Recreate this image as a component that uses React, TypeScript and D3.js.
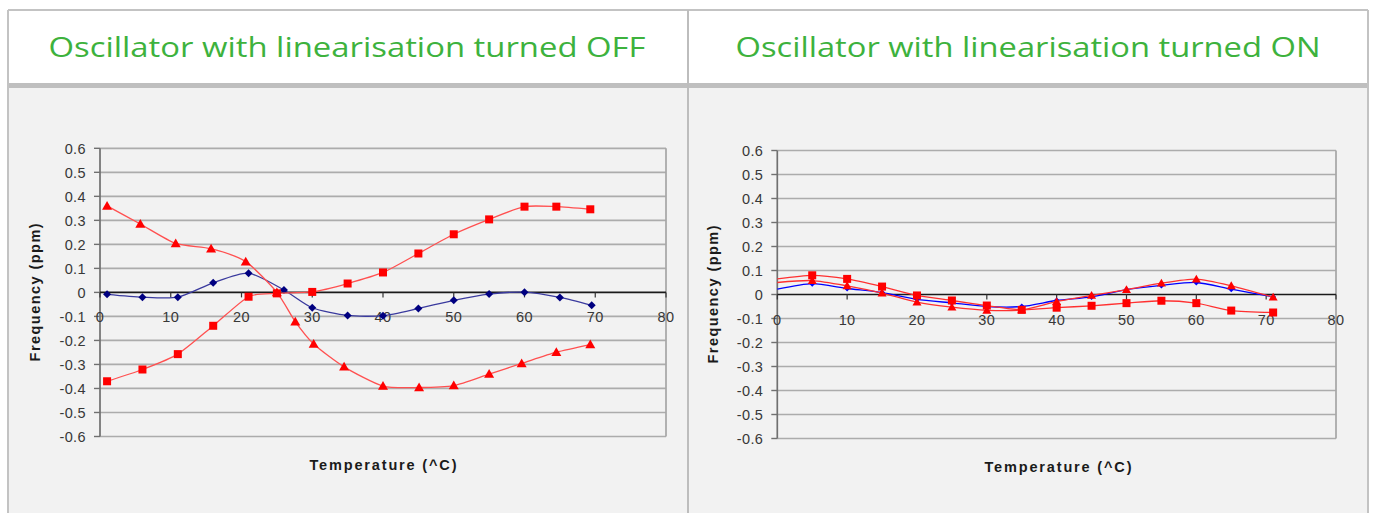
import React from 'react';
import * as d3 from 'd3';

// ---------- data ----------
const titles = ['Oscillator with linearisation turned OFF', 'Oscillator with linearisation turned ON'];
const xTickValues = [0, 10, 20, 30, 40, 50, 60, 70, 80];
const yTickValues = [0.6, 0.5, 0.4, 0.3, 0.2, 0.1, 0, -0.1, -0.2, -0.3, -0.4, -0.5, -0.6];
const yTickLabels = ['0.6', '0.5', '0.4', '0.3', '0.2', '0.1', '0', '-0.1', '-0.2', '-0.3', '-0.4', '-0.5', '-0.6'];
const xAxisTitle = 'Temperature (^C)';
const yAxisTitle = 'Frequency (ppm)';

// Left chart (linearisation OFF)
const offBlueT = [1, 6, 11, 16, 21, 26, 30, 35, 40, 45, 50, 55, 60, 65, 69.5];
const offBlueV = [-0.008, -0.02, -0.02, 0.04, 0.08, 0.01, -0.064, -0.096, -0.097, -0.067, -0.033, -0.007, 0.001, -0.021, -0.054];
const offSquareT = [1, 6, 11, 16, 21, 25, 30, 35, 40, 45, 50, 55, 60, 64.5, 69.3];
const offSquareV = [-0.37, -0.321, -0.257, -0.139, -0.018, -0.004, 0.002, 0.037, 0.083, 0.162, 0.242, 0.304, 0.357, 0.357, 0.346];
const offTriT = [1, 5.7, 10.7, 15.7, 20.6, 25, 27.6, 30.2, 34.5, 40, 45.1, 50, 55, 59.6, 64.5, 69.3];
const offTriV = [0.36, 0.285, 0.204, 0.182, 0.128, 0.0, -0.122, -0.215, -0.31, -0.39, -0.396, -0.388, -0.34, -0.296, -0.249, -0.217];

// Right chart (linearisation ON)
const onT = [0, 5, 10, 15, 20, 25, 30, 35, 40, 45, 50, 55, 60, 65, 71];
const onBlueV = [0.022, 0.045, 0.025, 0.008, -0.02, -0.035, -0.05, -0.05, -0.025, -0.01, 0.02, 0.038, 0.05, 0.022, -0.01];
const onTriV = [0.05, 0.058, 0.036, 0.006, -0.032, -0.053, -0.066, -0.064, -0.03, -0.004, 0.02, 0.047, 0.064, 0.036, -0.011];
const onSquareV = [0.065, 0.08, 0.065, 0.033, -0.004, -0.025, -0.046, -0.064, -0.055, -0.047, -0.036, -0.026, -0.036, -0.067, -0.075];

type Series = {
  t: number[];
  v: number[];
  line: string;
  marker: string;
  shape: 'square' | 'triangle' | 'diamond';
  size: number;
  skipFirstMarker?: boolean;
};

const leftSeries: Series[] = [
  { t: offBlueT, v: offBlueV, line: '#3a3a9e', marker: '#000080', shape: 'diamond', size: 4, },
  { t: offTriT, v: offTriV, line: '#ff5050', marker: '#ff0000', shape: 'triangle', size: 5 },
  { t: offSquareT, v: offSquareV, line: '#ff5050', marker: '#ff0000', shape: 'square', size: 4 },
];

const rightSeries: Series[] = [
  { t: onT, v: onBlueV, line: '#0000ff', marker: '#0000ff', shape: 'diamond', size: 3, skipFirstMarker: true },
  { t: onT, v: onTriV, line: '#ff3030', marker: '#ff0000', shape: 'triangle', size: 4.5, skipFirstMarker: true },
  { t: onT, v: onSquareV, line: '#ff3030', marker: '#ff0000', shape: 'square', size: 4, skipFirstMarker: true },
];

function Marker({ x, y, shape, size, color }: { x: number; y: number; shape: string; size: number; color: string }) {
  if (shape === 'square') {
    return <rect x={x - size} y={y - size} width={size * 2} height={size * 2} fill={color} />;
  }
  if (shape === 'triangle') {
    const s = size;
    return <path d={`M${x},${y - s}L${x + s},${y + s * 0.75}L${x - s},${y + s * 0.75}Z`} fill={color} />;
  }
  const s = size;
  return <path d={`M${x},${y - s}L${x + s},${y}L${x},${y + s}L${x - s},${y}Z`} fill={color} />;
}

function Panel({ x0, x1, yTop, yBot, series, xTitleX, xTitleY, yTitleX, xTitleLen, yTitleLen }: {
  x0: number; x1: number; yTop: number; yBot: number; series: Series[];
  xTitleX: number; xTitleY: number; yTitleX: number; xTitleLen: number; yTitleLen: number;
}) {
  const x = d3.scaleLinear().domain([0, 80]).range([x0, x1]);
  const y = d3.scaleLinear().domain([-0.6, 0.6]).range([yBot, yTop]);
  const zeroY = y(0);
  const line = d3.line<[number, number]>()
    .x(d => x(d[0]))
    .y(d => y(d[1]))
    .curve(d3.curveCardinal.tension(0.3));
  const tickFont = '"Liberation Sans", Arial, sans-serif';
  return (
    <g>
      {yTickValues.map((v, i) => v !== 0 ? (
        <line key={'g' + i} x1={x0} x2={x1} y1={y(v)} y2={y(v)} stroke="#acacac" strokeWidth={1.7} />
      ) : null)}
      <line x1={x1} x2={x1} y1={yTop} y2={yBot} stroke="#a6a6a6" strokeWidth={1.7} />
      <line x1={x0} x2={x0} y1={yTop} y2={yBot} stroke="#707070" strokeWidth={1.7} />
      {yTickValues.map((v, i) => (
        <g key={'yt' + i}>
          <line x1={x0 - 6} x2={x0} y1={y(v)} y2={y(v)} stroke="#707070" strokeWidth={1.4} />
          <text x={x0 - 14} y={y(v)} dy="0.36em" textAnchor="end" fontFamily={tickFont} fontSize={14.5}
            letterSpacing={0.4} fill="#383838">{yTickLabels[i]}</text>
        </g>
      ))}
      <line x1={x0} x2={x1} y1={zeroY} y2={zeroY} stroke="#1a1a1a" strokeWidth={1.7} />
      {xTickValues.map((t, i) => (
        <g key={'xt' + i}>
          <line x1={x(t)} x2={x(t)} y1={zeroY} y2={zeroY + 5} stroke="#333" strokeWidth={1.2} />
          <text x={x(t)} y={zeroY + 30} textAnchor="middle" fontFamily={tickFont} fontSize={14.5}
            letterSpacing={0.4} fill="#383838">{String(t)}</text>
        </g>
      ))}
      {series.map((s, si) => {
        const pts: [number, number][] = s.t.map((t, i) => [t, s.v[i]]);
        return (
          <g key={'s' + si}>
            <path d={line(pts) || ''} fill="none" stroke={s.line} strokeWidth={1.3} />
            {pts.map((p, i) => (s.skipFirstMarker && i === 0) ? null : (
              <Marker key={i} x={x(p[0])} y={y(p[1])} shape={s.shape} size={s.size} color={s.marker} />
            ))}
          </g>
        );
      })}
      <text x={xTitleX} y={xTitleY} textAnchor="middle" fontFamily={tickFont} fontWeight="bold" fontSize={14.5}
        textLength={xTitleLen} lengthAdjust="spacing" fill="#1a1a1a">{xAxisTitle}</text>
      <text transform={`translate(${yTitleX},${zeroY}) rotate(-90)`} textAnchor="middle" fontFamily={tickFont}
        fontWeight="bold" fontSize={14.5} textLength={yTitleLen} lengthAdjust="spacing" fill="#1a1a1a">{yAxisTitle}</text>
    </g>
  );
}

export default function App() {
  const W = 1373, H = 513;
  return (
    <svg width={W} height={H} style={{ position: 'absolute', left: 0, top: 0 }}>
      <rect x={0} y={0} width={W} height={H} fill="#ffffff" />
      <rect x={8} y={10} width={1360} height={74} fill="#ffffff" />
      <rect x={8} y={87} width={1360} height={H} fill="#f2f2f2" />
      <rect x={8} y={83} width={1360} height={5} fill="#bfbfbf" />
      <line x1={8} x2={1368} y1={10} y2={10} stroke="#c3c3c3" strokeWidth={2} />
      <line x1={8} x2={8} y1={10} y2={H} stroke="#c3c3c3" strokeWidth={2} />
      <line x1={1368} x2={1368} y1={10} y2={H} stroke="#c3c3c3" strokeWidth={2} />
      <line x1={688} x2={688} y1={10} y2={H} stroke="#bdbdbd" strokeWidth={2} />
      <text x={347} y={57} textAnchor="middle" fontFamily='"Open Sans", sans-serif' fontSize={28}
        textLength={597} lengthAdjust="spacingAndGlyphs" fill="#3db23d">{titles[0]}</text>
      <text x={1028} y={57} textAnchor="middle" fontFamily='"Open Sans", sans-serif' fontSize={28}
        textLength={585} lengthAdjust="spacingAndGlyphs" fill="#3db23d">{titles[1]}</text>
      <Panel x0={100} x1={666} yTop={148.3} yBot={436.5} series={leftSeries}
        xTitleX={383} xTitleY={470} yTitleX={40} xTitleLen={147} yTitleLen={138} />
      <Panel x0={777.3} x1={1336} yTop={150.5} yBot={438.5} series={rightSeries}
        xTitleX={1058} xTitleY={472} yTitleX={718} xTitleLen={147} yTitleLen={138} />
    </svg>
  );
}
